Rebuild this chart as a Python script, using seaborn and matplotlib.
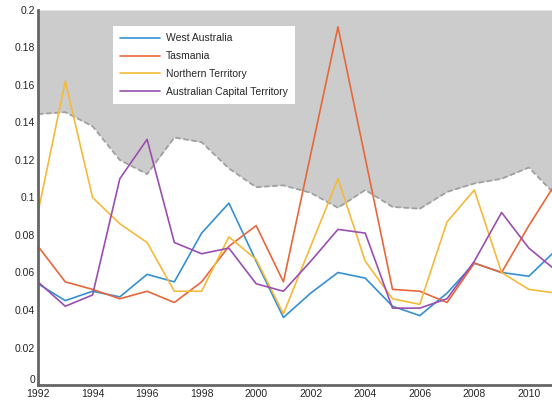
import numpy as np
import pandas as pd
import seaborn as sns
import matplotlib.pyplot as plt

# Yearly values
years = list(range(1992, 2012))
west_australia = [0.054, 0.045, 0.050, 0.047, 0.059, 0.055, 0.081, 0.097, 0.066, 0.036,
                  0.049, 0.060, 0.057, 0.042, 0.037, 0.049, 0.065, 0.060, 0.058, 0.072]
tasmania = [0.074, 0.055, 0.051, 0.046, 0.050, 0.044, 0.055, 0.074, 0.085, 0.055,
            0.123, 0.191, 0.121, 0.051, 0.050, 0.044, 0.065, 0.060, 0.085, 0.108]
northern_territory = [0.092, 0.162, 0.100, 0.086, 0.076, 0.050, 0.050, 0.079, 0.067, 0.038,
                      0.074, 0.110, 0.066, 0.046, 0.043, 0.087, 0.104, 0.060, 0.051, 0.049]
capital_territory = [0.055, 0.042, 0.048, 0.110, 0.131, 0.076, 0.070, 0.073, 0.054, 0.050,
                     0.066, 0.083, 0.081, 0.041, 0.041, 0.046, 0.066, 0.092, 0.073, 0.061]
# upper boundary (grey shaded area above it)
boundary = [0.1445, 0.1455, 0.138, 0.120, 0.1125, 0.132, 0.1295, 0.1155, 0.1055, 0.1065,
            0.1025, 0.0945, 0.104, 0.095, 0.094, 0.103, 0.1075, 0.110, 0.116, 0.101]

series = {
    "West Australia": west_australia,
    "Tasmania": tasmania,
    "Northern Territory": northern_territory,
    "Australian Capital Territory": capital_territory,
}
colors = ["#3590D2", "#E8673A", "#F4BA3A", "#9A4FB0"]

df = pd.DataFrame(series, index=years)
df.index.name = "year"
long_df = df.reset_index().melt(id_vars="year", var_name="region", value_name="value")

sns.set_style("white")
plt.rcParams["font.family"] = ["Liberation Sans Narrow", "Liberation Sans", "DejaVu Sans"]

fig = plt.figure(figsize=(5.52, 4.04), dpi=100)
ax = fig.add_axes([38 / 552, 19 / 404, 1 - 38 / 552, 375 / 404])

# grey region above the boundary
ax.fill_between(years, boundary, 0.2, color="#CCCCCC", linewidth=0, zorder=0)
ax.plot(years, boundary, color="#A0A0A0", linestyle=(0, (3, 1.5)), linewidth=1.3, zorder=1)

sns.lineplot(data=long_df, x="year", y="value", hue="region", palette=colors,
             hue_order=list(series.keys()), linewidth=1.2, ax=ax, zorder=2)

ax.set_xlim(1992, 1992 + (552 - 38) / 27.27)
ax.set_ylim(0, 0.2)
ax.set_xticks(range(1992, 2011, 2))
ax.set_yticks(np.arange(0, 0.21, 0.02))
ax.set_yticklabels(["0", "0.02", "0.04", "0.06", "0.08", "0.1", "0.12", "0.14",
                    "0.16", "0.18", "0.2"])
ax.set_xlabel("")
ax.set_ylabel("")
ax.tick_params(axis="y", direction="in", length=4, width=1, color="#555555",
               labelsize=7.5, pad=2)
ax.tick_params(axis="x", direction="in", length=0, labelsize=7.5, pad=3)
# the "0" label sits just above the 1992 label, as in the original
ax.get_yticklabels()[0].set_verticalalignment("bottom")

for side in ["top", "right"]:
    ax.spines[side].set_visible(False)
for side in ["left", "bottom"]:
    ax.spines[side].set_color("#666666")
    ax.spines[side].set_linewidth(2)

leg = ax.legend(loc="upper left", bbox_to_anchor=(0.146, 0.957), frameon=True,
                fancybox=False, framealpha=1, edgecolor="white", fontsize=7.5,
                handlelength=3.8, borderpad=0.7, labelspacing=0.75, handletextpad=0.6,
                borderaxespad=0)
leg.get_frame().set_linewidth(0)

fig.savefig("out.png", dpi=100)
